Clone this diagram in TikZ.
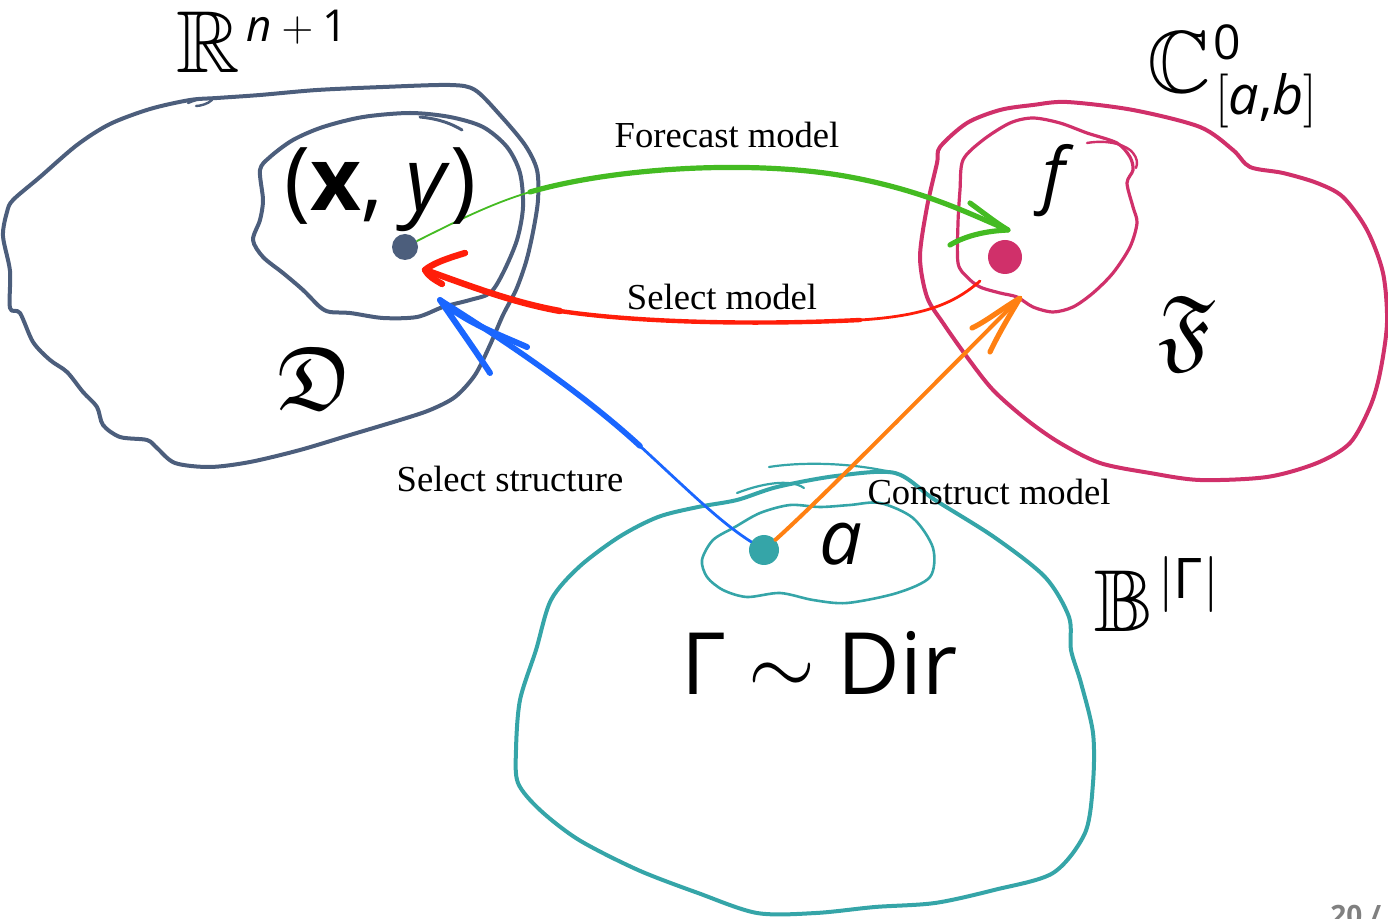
\RequirePackage{fix-cm}
\documentclass[tikz,border=0pt]{standalone}
\usepackage{amssymb}
\usepackage{fontspec}
\setmainfont{Liberation Serif}
\newfontfamily\osans{Open Sans}
\usetikzlibrary{calc}
\definecolor{sl}{HTML}{4C5E7C}
\definecolor{cr}{HTML}{D0306A}
\definecolor{tl}{HTML}{35A5A8}
\definecolor{gr}{HTML}{44BB22}
\definecolor{rd}{HTML}{FF1E0A}
\definecolor{bl}{HTML}{1A66FF}
\definecolor{og}{HTML}{FF8012}
\def\fsz#1{\fontsize{#1}{#1}\selectfont}

\begin{document}
\begin{tikzpicture}[x=0.5pt,y=-0.5pt,line cap=round,line join=round,
  blob/.style={line width=2pt},
  dot/.style={circle,inner sep=0pt},
  lbl/.style={anchor=base,font=\fsz{18.3}},
  sym/.style={anchor=base west,inner sep=0pt},
  big/.style={sym,font=\osans\fsz{38}},
  bb/.style={sym,font=\fsz{44}}]
  \clip (0,0) rectangle (1388,919);
  % data space D in R^{n+1}
  \draw[sl,blob] plot[smooth cycle,tension=0.5] coordinates {(217,98) (260,95) (317,90) (383,87) (450,85) (475,90) (500,115) (525,145) (537,170) (538,200) (533,232) (526,262) (516,290) (503,315) (490,345) (475,375) (455,397) (430,410) (400,420) (350,435) (300,450) (250,462) (210,467) (175,463) (157,448) (147,440) (120,437) (103,425) (97,407) (83,392) (67,372) (50,360) (33,342) (20,313) (10,308) (10,271) (3,236) (7,212) (13,200) (40,177) (77,145) (110,124) (150,109) (190,100)};
  \draw[sl,blob] plot[smooth cycle,tension=0.5] coordinates {(260,170) (270,157) (293,140) (323,127) (363,117) (410,113) (450,117) (483,127) (507,147) (520,173) (523,207) (517,240) (503,273) (490,293) (470,300) (443,307) (417,317) (383,318) (350,313) (330,312) (320,307) (303,290) (283,273) (263,257) (253,240) (260,220) (263,200)};
  \draw[sl,line width=1.5pt] (420,117) .. controls (440,119) and (452,124) .. (462,130);
  \draw[sl,line width=1.2pt] (188,103) .. controls (200,98) and (208,97) .. (212,100) .. controls (208,104) and (200,106) .. (196,106);
  % function space F in C^0
  \draw[cr,blob] plot[smooth cycle,tension=0.5] coordinates {(940,147) (967,123) (1000,110) (1033,105) (1067,102) (1133,110) (1200,127) (1233,150) (1250,167) (1283,173) (1317,183) (1343,197) (1367,230) (1383,273) (1387,323) (1380,373) (1370,407) (1350,443) (1317,463) (1267,477) (1200,480) (1150,473) (1100,463) (1060,443) (1027,420) (993,390) (967,357) (943,323) (927,297) (920,257) (927,207) (937,163)};
  \draw[cr,line width=1.6pt] plot[smooth cycle,tension=0.5] coordinates {(963,160) (983,140) (1010,123) (1033,118) (1060,123) (1087,133) (1117,143) (1130,157) (1133,170) (1127,183) (1133,207) (1137,223) (1130,247) (1113,273) (1093,293) (1073,307) (1053,312) (1033,307) (1017,297) (1000,293) (980,287) (967,277) (958,263) (958,223) (960,190)};
  \draw[cr,line width=1.2pt] (1087,143) .. controls (1110,139) and (1128,146) .. (1133,153) .. controls (1137,158) and (1138,163) .. (1136,168);
  % structure space B^{|Gamma|}
  \draw[tl,blob] plot[smooth cycle,tension=0.5] coordinates {(895,473) (935,500) (994,537) (1045,577) (1069,617) (1071,650) (1081,683) (1093,733) (1093,783) (1085,833) (1053,873) (994,890) (935,903) (875,907) (816,913) (757,913) (698,893) (638,870) (579,840) (540,810) (518,783) (516,750) (520,700) (536,650) (551,600) (579,567) (619,537) (658,517) (698,507) (737,500) (777,487) (836,476)};
  \draw[tl,line width=1.3pt] plot[smooth cycle,tension=0.5] coordinates {(702,560) (713,540) (735,527) (760,513) (790,505) (820,507) (850,505) (880,503) (913,518) (933,548) (930,577) (897,593) (847,603) (813,600) (780,593) (747,597) (723,590) (707,577)};
  \draw[tl,line width=1.1pt] (769,467) .. controls (800,462) and (850,462) .. (895,473);
  \draw[tl,line width=1.1pt] (737,493) .. controls (760,484) and (790,478) .. (804,488);

  % points
  \node[dot,fill=sl,minimum size=13pt] (xy) at (405,247) {};
  \node[dot,fill=cr,minimum size=17pt] (fd) at (1005,257) {};
  \node[dot,fill=tl,minimum size=15pt] (ad) at (764,550) {};
  \coordinate (gtip) at (1008,230);
  \coordinate (rfoot) at (980,281);
  \coordinate (rtip) at (425,270);
  \coordinate (btip) at (440,300);
  \coordinate (otip) at (1020,298);

  % forecast model
  \draw[gr,line width=0.9pt] (xy) .. controls (455,222) and (490,204) .. (530,192);
  \draw[gr,line width=2.6pt] (530,192) .. controls (620,166) and (760,160) .. (850,177)
    .. controls (925,191) and (970,214) .. (gtip);
  \draw[gr,line width=2.6pt] (970,203) .. controls (985,214) and (995,222) .. (gtip)
    .. controls (985,231) and (965,236) .. (950,245);
  % select model
  \draw[rd,line width=1.4pt] (rfoot) .. controls (955,303) and (925,316) .. (860,320);
  \draw[rd,line width=2.2pt] (860,320) .. controls (760,325) and (640,323) .. (560,311);
  \draw[rd,line width=3.2pt] (560,311) .. controls (510,302) and (465,284) .. (rtip);
  \draw[rd,line width=3.2pt] (465,253) .. controls (445,259) and (432,264) .. (rtip)
    .. controls (428,276) and (435,280) .. (442,284);
  % select structure
  \draw[bl,line width=1.4pt] (ad) .. controls (720,522) and (690,492) .. (640,446);
  \draw[bl,line width=2.8pt] (640,446) .. controls (590,400) and (520,350) .. (btip);
  \draw[bl,line width=3pt] (527,347) .. controls (495,333) and (465,322) .. (btip)
    .. controls (455,322) and (475,350) .. (490,373);
  % construct model
  \draw[og,line width=2pt] (ad) .. controls (820,500) and (940,378) .. (otip);
  \draw[og,line width=2.6pt] (972,328) .. controls (985,322) and (1000,310) .. (otip)
    .. controls (1008,318) and (998,335) .. (990,352);

  % labels
  \node[lbl] (lfc) at (727,148) {Forecast model};
  \node[lbl] (lsm) at (722,310) {Select model};
  \node[lbl] (lss) at (510,492) {Select structure};
  \node[lbl] (lcm) at (989,505) {Construct model};

  \node[bb] (Rb) at (176,73) {$\mathbb{R}$};
  \node[sym,font=\osans\fsz{22}] (Rsup) at (246,42) {\textit{n}${}+{}$1};
  \node[bb] (Cb) at (1147,93) {$\mathbb{C}$};
  \node[sym,font=\osans\fsz{24}] (Csup) at (1213,60) {0};
  \node[sym,font=\osans\fsz{27}] (Csub) at (1215,115) {$\big[$\textit{a},\textit{b}$\big]$};
  \node[bb] (Bb) at (1094,632) {$\mathbb{B}$};
  \node[sym,font=\osans\fsz{28}] (Bsup) at (1158,599) {$|$Γ$|$};

  \node[sym,font=\fsz{45}] (Dk) at (277,410) {$\mathfrak{D}$};
  \node[sym,font=\fsz{46}] (Fk) at (1158,360) {$\mathfrak{F}$};

  \node[big,font=\osans\fsz{44}] (xylbl) at (284,211) {(\textbf{x}, \textit{y})};
  \node[big,font=\osans\fsz{36}] (flbl) at (1042,200) {\textit{f}};
  \node[big] (albl) at (819,565) {\textit{a}};
  \node[big,font=\osans\fsz{43}] (dir) at (681,695) {Γ $\sim$ Dir};

  \node[sym,font=\osans\bfseries\fsz{14},text=black!50] (pg) at (1330,925) {20 /};
\end{tikzpicture}
\end{document}
